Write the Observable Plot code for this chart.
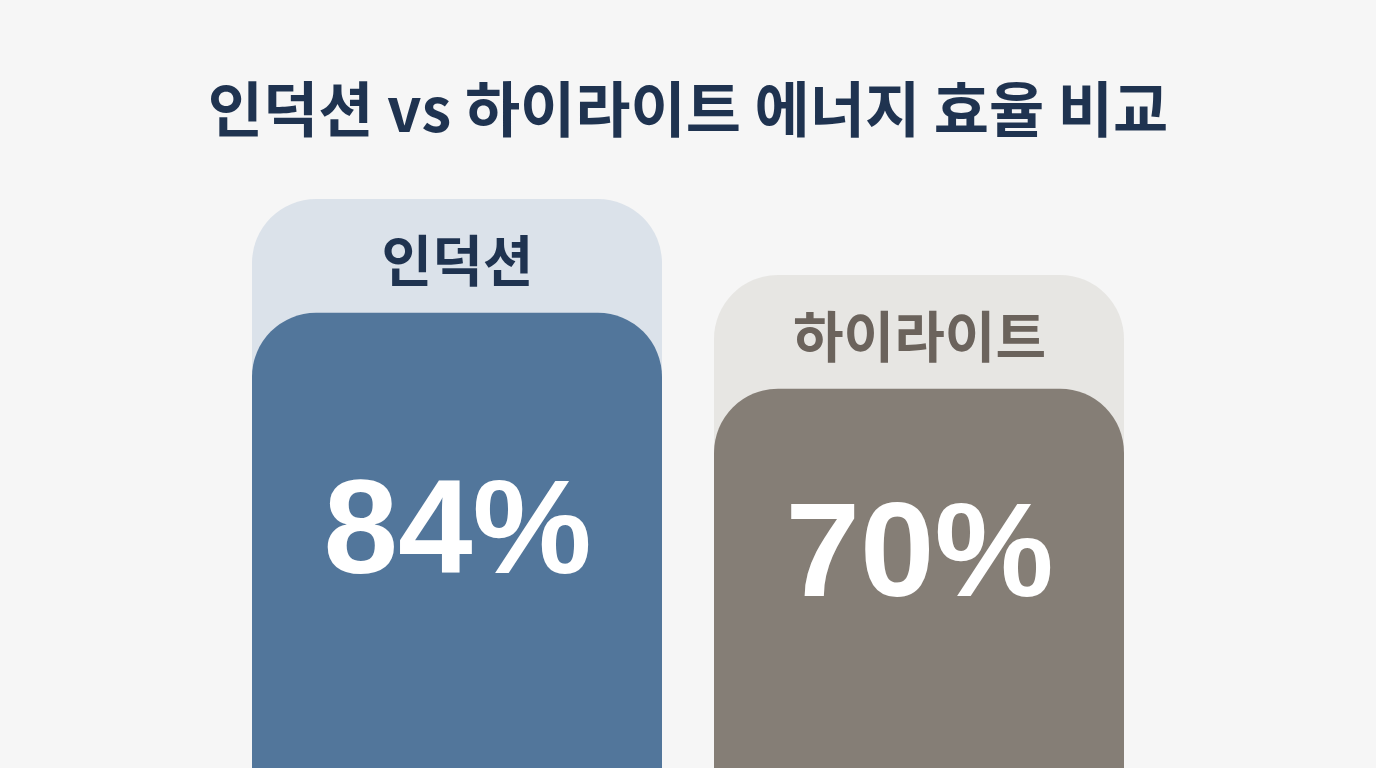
<!DOCTYPE html>
<html>
<head>
<meta charset="utf-8">
<script src="https://cdn.jsdelivr.net/npm/d3@7"></script>
<script src="https://cdn.jsdelivr.net/npm/@observablehq/plot@0.6"></script>
<style>
  html, body { margin: 0; padding: 0; background: #f6f6f6; overflow: hidden; width: 1376px; height: 768px; }
  #title { box-sizing: border-box; height: 170px; padding-top: 74px; line-height: 64px; text-align: center;
    font-family: "Noto Sans CJK KR", "Noto Sans", sans-serif; font-weight: 700; font-size: 60px; color: #1f3350; margin: 0; }
  #chart svg { display: block; background: transparent; }
</style>
</head>
<body>
<div id="title"></div>
<div id="chart"></div>
<script>
const titleText = "인덕션 vs 하이라이트 에너지 효율 비교";
const categories = ["인덕션", "하이라이트"];
const efficiency = [84, 70];
const barColors = ["#52769b", "#857e76"];
const capColors = ["#dbe2ea", "#e7e6e3"];
const labelColors = ["#1f3350", "#6b635c"];
const capUnits = 21;

document.getElementById("title").textContent = titleText;

const data = categories.map((c, i) => ({
  cat: c, value: efficiency[i], bar: barColors[i], cap: capColors[i], label: labelColors[i]
}));

const chart = Plot.plot({
  width: 1376,
  height: 700,
  margin: 0,
  style: { background: "transparent" },
  x: { domain: categories, range: [251, 1125], paddingInner: 0.112, paddingOuter: 0, axis: null },
  y: { domain: [0, 110], range: [598, 2], axis: null },
  color: { type: "identity" },
  marks: [
    Plot.barY(data, { x: "cat", y1: -20, y2: d => d.value + capUnits, fill: d => d.cap, rx: 64 }),
    Plot.barY(data, { x: "cat", y1: -20, y2: "value", fill: d => d.bar, rx: 64 }),
    Plot.text(data, { x: "cat", y: d => d.value + capUnits, dy: 64, text: "cat", fill: d => d.label,
      fontSize: 55, fontWeight: 700, fontFamily: "Noto Sans CJK KR" }),
    Plot.text(data, { x: "cat", y: d => d.value * 0.31 + 18, text: d => d.value + "%", fill: "#ffffff",
      fontSize: 134, fontWeight: 700, fontFamily: "Liberation Sans" })
  ]
});
document.getElementById("chart").appendChild(chart);
</script>
</body>
</html>
